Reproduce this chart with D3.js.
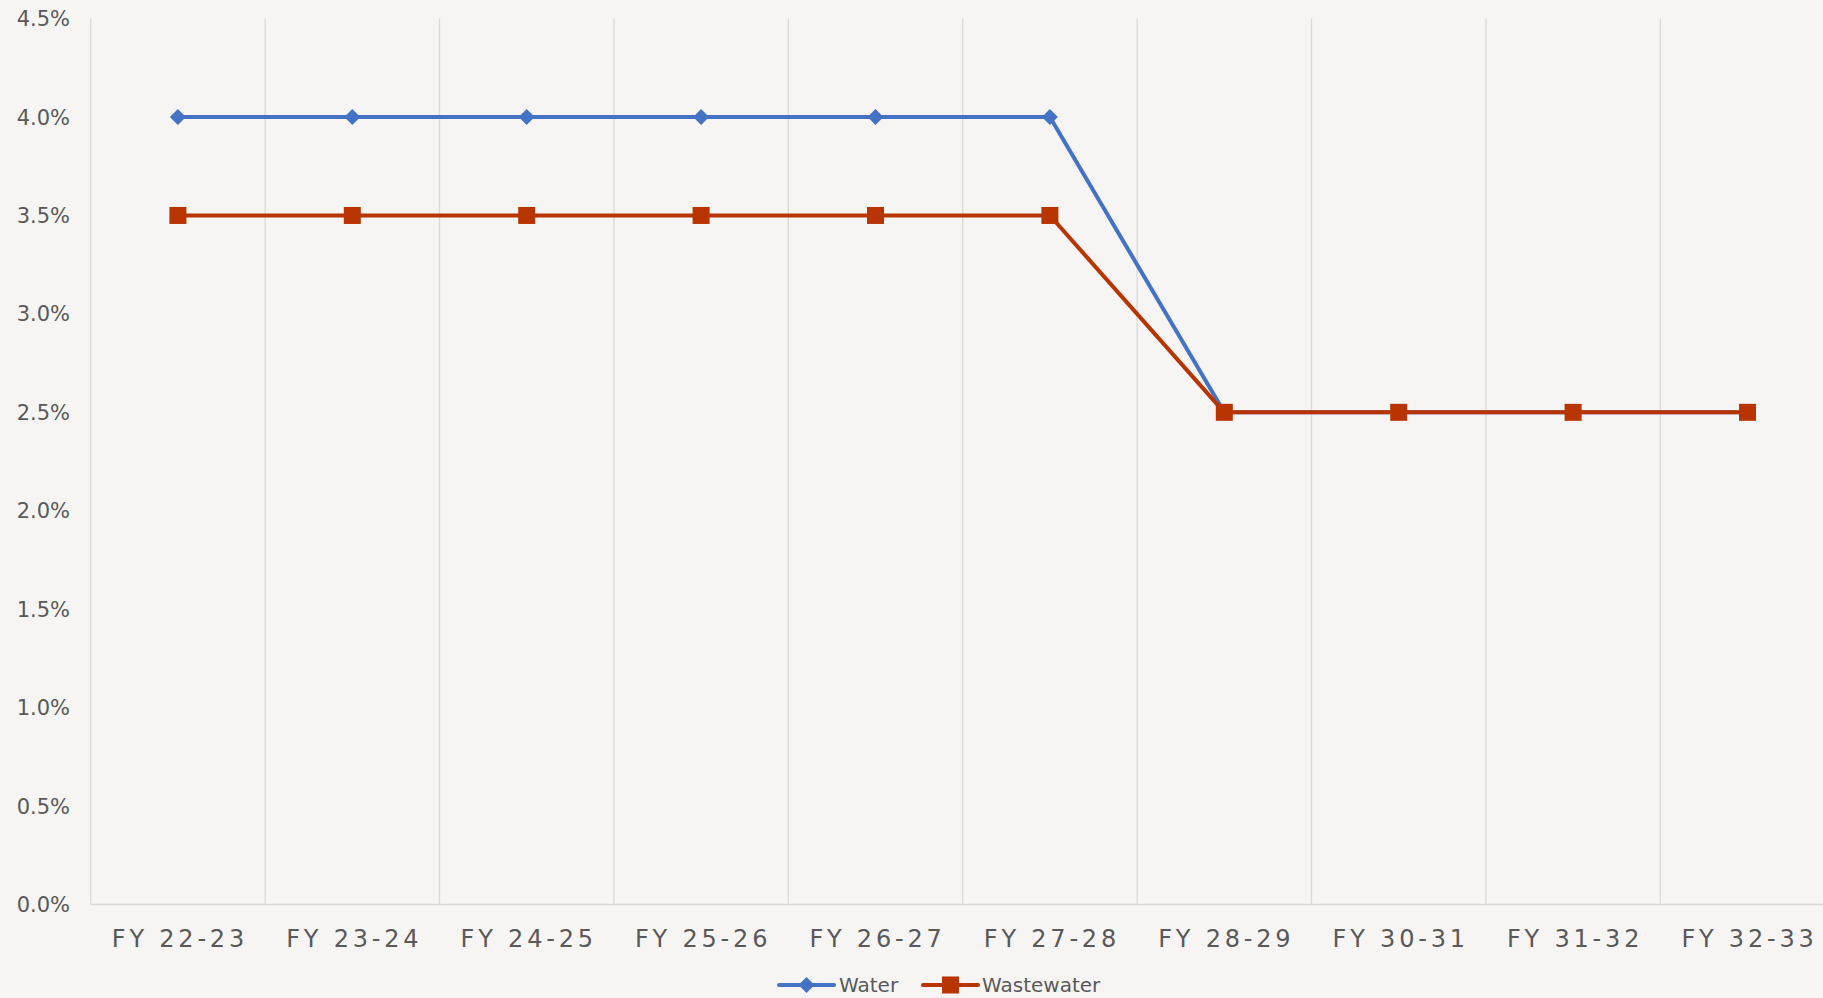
<!DOCTYPE html>
<html>
<head>
<meta charset="utf-8">
<script src="https://cdn.jsdelivr.net/npm/d3@7"></script>
<style>
  html, body { margin: 0; padding: 0; background: #f6f5f4; overflow: hidden; }
  svg text { font-family: "DejaVu Sans", sans-serif; fill: #595959; }
</style>
</head>
<body>
<svg id="chart"></svg>
<script>
// Rate increase per fiscal year
const years = ['FY 22-23', 'FY 23-24', 'FY 24-25', 'FY 25-26', 'FY 26-27',
  'FY 27-28', 'FY 28-29', 'FY 30-31', 'FY 31-32', 'FY 32-33'];
const water = [4.0, 4.0, 4.0, 4.0, 4.0, 4.0, 2.5, 2.5, 2.5, 2.5];
const wastewater = [3.5, 3.5, 3.5, 3.5, 3.5, 3.5, 2.5, 2.5, 2.5, 2.5];
const yTicks = [0, 0.5, 1.0, 1.5, 2.0, 2.5, 3.0, 3.5, 4.0, 4.5];

const seriesList = [
  { name: 'Water', values: water, color: '#4472c4', marker: 'diamond' },
  { name: 'Wastewater', values: wastewater, color: '#b83400', marker: 'square' },
];

const W = 1823;
const H = 998;
// plot runs a bit past the right edge, like the original export
const margin = { top: 18.6, left: 90.7, plotW: 1744, bottom: 904.5 };

const svg = d3.select('#chart').attr('width', W).attr('height', H);

const x = d3.scaleBand().domain(years).range([margin.left, margin.left + margin.plotW]);
const y = d3.scaleLinear().domain([0, 4.5]).range([margin.bottom, margin.top]);

// vertical gridlines at category boundaries
const bounds = years.map((d) => x(d)).concat([x.range()[1]]);
svg.append('g').selectAll('line')
  .data(bounds)
  .join('line')
  .attr('x1', (d) => d).attr('x2', (d) => d)
  .attr('y1', margin.top).attr('y2', margin.bottom)
  .attr('stroke', '#d9d9d9')
  .attr('stroke-width', 1.3);

// x axis line
svg.append('line')
  .attr('x1', margin.left).attr('x2', x.range()[1])
  .attr('y1', margin.bottom).attr('y2', margin.bottom)
  .attr('stroke', '#d9d9d9')
  .attr('stroke-width', 1.3);

// y tick labels
svg.append('g').selectAll('text')
  .data(yTicks)
  .join('text')
  .attr('x', 70)
  .attr('y', (d) => y(d))
  .attr('dy', '0.36em')
  .attr('text-anchor', 'end')
  .style('font-size', '21px')
  .text((d) => `${d.toFixed(1)}%`);

// x tick labels
svg.append('g').selectAll('text')
  .data(years)
  .join('text')
  .attr('x', (d) => x(d) + x.bandwidth() / 2 + 2)
  .attr('y', 947)
  .attr('text-anchor', 'middle')
  .style('font-size', '24px')
  .style('letter-spacing', '3.8px')
  .text((d) => d);

const cx = (i) => x(years[i]) + x.bandwidth() / 2;

function drawMarker(g, type, color, px, py) {
  if (type === 'diamond') {
    g.append('path')
      .attr('d', `M${px},${py - 8}L${px + 8},${py}L${px},${py + 8}L${px - 8},${py}Z`)
      .attr('fill', color);
  } else {
    g.append('rect')
      .attr('x', px - 8.5).attr('y', py - 8.5)
      .attr('width', 17).attr('height', 17)
      .attr('fill', color);
  }
}

const line = d3.line().x((d, i) => cx(i)).y((d) => y(d));

seriesList.forEach((s) => {
  const g = svg.append('g');
  g.append('path')
    .datum(s.values)
    .attr('d', line)
    .attr('fill', 'none')
    .attr('stroke', s.color)
    .attr('stroke-width', 4)
    .attr('stroke-linejoin', 'round');
  s.values.forEach((v, i) => drawMarker(g, s.marker, s.color, cx(i), y(v)));
});

// legend
const legendY = 985;
const legendItems = [
  { s: seriesList[0], x0: 779, tx: 839 },
  { s: seriesList[1], x0: 923, tx: 982 },
];
legendItems.forEach((it) => {
  const g = svg.append('g');
  g.append('line')
    .attr('x1', it.x0).attr('x2', it.x0 + 55)
    .attr('y1', legendY).attr('y2', legendY)
    .attr('stroke', it.s.color)
    .attr('stroke-width', 4)
    .attr('stroke-linecap', 'round');
  drawMarker(g, it.s.marker, it.s.color, it.x0 + 27.5, legendY);
  g.append('text')
    .attr('x', it.tx)
    .attr('y', legendY)
    .attr('dy', '0.36em')
    .style('font-size', '20px')
    .text(it.s.name);
});
</script>
</body>
</html>
